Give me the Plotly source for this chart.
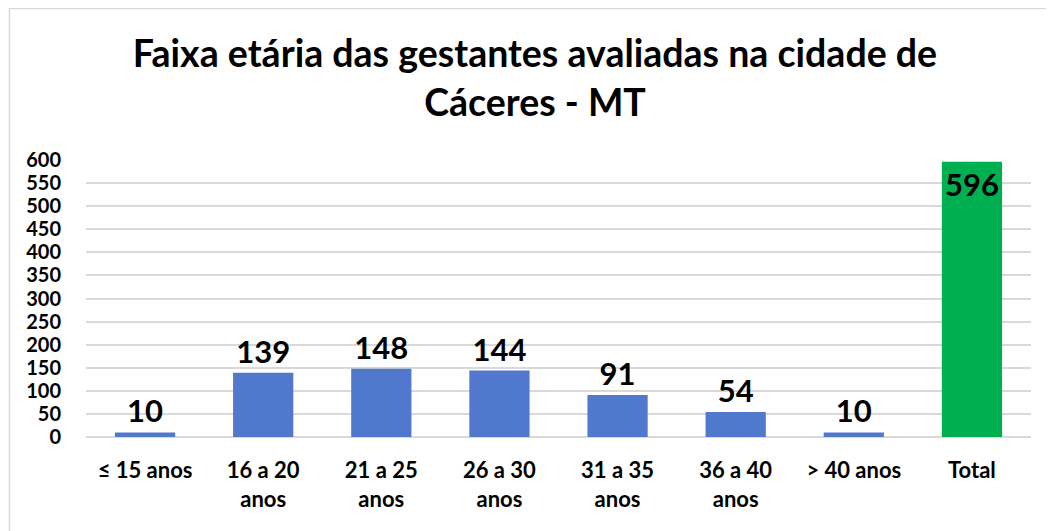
import plotly.graph_objects as go

categories = ["≤ 15 anos", "16 a 20<br>anos", "21 a 25<br>anos", "26 a 30<br>anos",
              "31 a 35<br>anos", "36 a 40<br>anos", "> 40 anos", "Total"]
values = [10, 139, 148, 144, 91, 54, 10, 596]
bar_colors = ["#5079CE"] * 7 + ["#00B050"]
text_positions = ["outside"] * 7 + ["inside"]
y_ticks = list(range(0, 601, 50))

FONT = "Lato"

fig = go.Figure()
fig.add_trace(go.Bar(
    x=categories, y=values,
    marker=dict(color=bar_colors, line=dict(width=0)),
    text=[str(v) for v in values],
    textposition=text_positions,
    insidetextanchor="end",
    textfont=dict(family=FONT, size=31, color="black", weight="bold"),
    outsidetextfont=dict(family=FONT, size=31, color="black", weight="bold"),
    insidetextfont=dict(family=FONT, size=31, color="black", weight="bold"),
    cliponaxis=False,
    width=0.51,
))

fig.update_layout(
    width=1054, height=531,
    margin=dict(l=78, r=31, t=152, b=102),
    paper_bgcolor="white", plot_bgcolor="white",
    showlegend=False,
    title=dict(
        text="Faixa etária das gestantes avaliadas na cidade de<br>Cáceres - MT",
        x=0.5, xref="container", xanchor="center",
        y=0.889, yref="container", yanchor="top",
        font=dict(family=FONT, size=37.5, color="black", weight="bold"),
    ),
    xaxis=dict(
        tickfont=dict(family=FONT, size=22, color="black", weight="bold"),
        showgrid=False, showline=False, zeroline=False,
        ticks="outside", ticklen=14, tickcolor="rgba(0,0,0,0)",
    ),
    yaxis=dict(
        range=[0, 600], tickvals=y_ticks,
        tickfont=dict(family=FONT, size=20, color="black", weight="bold"),
        showgrid=True, gridcolor="#D9D9D9", gridwidth=1.5,
        zeroline=True, zerolinecolor="#D9D9D9", zerolinewidth=1.5,
        showline=False,
        ticks="outside", ticklen=20, tickcolor="rgba(0,0,0,0)",
    ),
    shapes=[dict(
        type="rect", xref="paper", yref="paper",
        x0=-0.081, x1=1.06, y0=-0.45, y1=1.547,
        line=dict(color="#D9D9D9", width=1.5), fillcolor="rgba(0,0,0,0)",
        layer="below",
    )],
)

fig.write_html("out.html")
